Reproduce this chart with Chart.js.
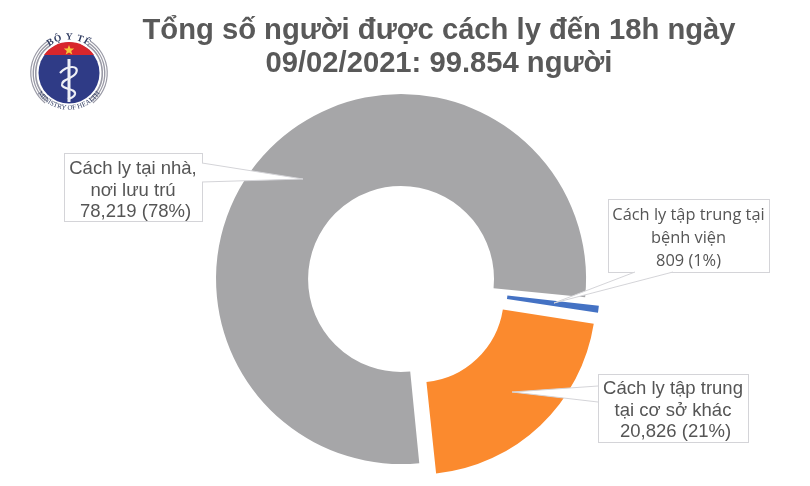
<!DOCTYPE html>
<html><head><meta charset="utf-8">
<script src="https://cdn.jsdelivr.net/npm/chart.js@4"></script>
<style>
html,body{margin:0;padding:0;background:#fff;}
#wrap{position:relative;width:810px;height:486px;overflow:hidden;}
canvas{position:absolute;left:0;top:0;}
#title{position:absolute;left:69px;width:740px;top:13px;text-align:center;font:bold 29.2px/33px "Liberation Sans",sans-serif;color:#595959;}
.lab{position:absolute;text-align:center;color:#555;white-space:pre;font-family:"Liberation Sans",sans-serif;}
svg{position:absolute;left:0;top:0;}
</style></head><body>
<div id="wrap">
<canvas id="c" width="810" height="486"></canvas>
<svg id="ov" width="810" height="486"></svg>
<div id="title">Tổng số người được cách ly đến 18h ngày<br>09/02/2021: 99.854 người</div>
<div class="lab" style="left:64px;top:157px;width:138px;font-size:18.5px;line-height:21.5px;">Cách ly tại nhà,
nơi lưu trú
 78,219 (78%)</div>
<div class="lab" style="left:608px;top:202px;width:161px;font:16.4px/23px 'Open Sans',sans-serif;">Cách ly tập trung tại
bệnh viện
809 (1%)</div>
<div class="lab" style="left:598px;top:377px;width:150px;font-size:18.5px;line-height:21.5px;">Cách ly tập trung
tại cơ sở khác
 20,826 (21%)</div>
</div>
<script>
const categories = ["Cách ly tại nhà, nơi lưu trú", "Cách ly tập trung tại bệnh viện", "Cách ly tập trung tại cơ sở khác"];
const values = [78219, 809, 20826];
const colors = ["#a6a6a8", "#4472c4", "#fb8a2e"];
const offsets = [28, 33, 66];

new Chart(document.getElementById("c"), {
  type: "doughnut",
  data: { labels: categories, datasets: [{ data: values, backgroundColor: colors, borderWidth: 0, offset: offsets }] },
  options: {
    responsive: false, animation: false, rotation: 174, cutout: "48.3%", radius: 178,
    layout: { padding: { top: 82, left: 2 } },
    plugins: { legend: { display: false }, tooltip: { enabled: false } }
  }
});

const border = "#d4d4d8";
const callouts = [
 {box:[64,153,202,221], tip:[303,179], base:[[202,163],[202,182]]},
 {box:[608,199,769,272], tip:[554,303], base:[[635,272],[673,272]]},
 {box:[598,374,748,442], tip:[512,392], base:[[598,386],[598,402]]}
];
const ns="http://www.w3.org/2000/svg", ov=document.getElementById("ov");
function el(n,a,p){const e=document.createElementNS(ns,n);for(const k in a)e.setAttribute(k,a[k]);(p||ov).appendChild(e);return e;}
callouts.forEach(c=>{
  const [x0,y0,x1,y1]=c.box;
  const pts=[c.base[0],c.tip,c.base[1]].map(p=>p.join(",")).join(" ");
  el("rect",{x:x0+.5,y:y0+.5,width:x1-x0,height:y1-y0,fill:"#fff",stroke:border});
  el("polygon",{points:pts,fill:"#fff",stroke:"none"});
  el("polyline",{points:pts,fill:"none",stroke:border});
});
// logo
const g=el("g",{transform:"translate(69,73)"});
el("circle",{cx:0,cy:0,r:30.5,fill:"#2f3b86"},g);
el("path",{d:"M-25,-18 A30.5,30.5 0 0 1 25,-18 Z",fill:"#d8262c"},g);
el("polygon",{points:"0,-28 1.4,-24.4 5.2,-24.4 2.2,-22 3.3,-18.6 0,-20.6 -3.3,-18.6 -2.2,-22 -5.2,-24.4 -1.4,-24.4",fill:"#f6c93a"},g);
el("path",{d:"M0,-14 L0,29",stroke:"#eef0f6","stroke-width":3,fill:"none"},g);
el("path",{d:"M-9,0 C-2,-8 11,-8 7,0 C4,6 -8,6 -7,12 C-6,17 7,15 6,21 C5,25 1,25 -1,26",stroke:"#eef0f6","stroke-width":2.2,fill:"none"},g);
[[33.5,1.6],[36,1.4],[38.5,1.2]].forEach(([r,w])=>{
  el("path",{d:`M${-r*.62},${r*.78} A${r},${r} 0 0 1 ${-r*.55},${-r*.83}`,stroke:"#9a9aa6","stroke-width":w,fill:"none"},g);
  el("path",{d:`M${r*.62},${r*.78} A${r},${r} 0 0 0 ${r*.55},${-r*.83}`,stroke:"#9a9aa6","stroke-width":w,fill:"none"},g);
});
el("path",{id:"t1",d:"M-25,-22 A33,33 0 0 1 25,-22",fill:"none"},g);
el("path",{id:"t2",d:"M-34,15 A37.5,37.5 0 0 0 34,15",fill:"none"},g);
const t1=el("text",{"font-size":9.5,"font-family":"Liberation Serif",fill:"#2f3b60","text-anchor":"middle","font-weight":"bold","letter-spacing":".8"},g);
el("textPath",{href:"#t1",startOffset:"50%"},t1).textContent="BỘ Y TẾ";
const t2=el("text",{"font-size":7,"font-family":"Liberation Serif",fill:"#2f3b60","text-anchor":"middle"},g);
el("textPath",{href:"#t2",startOffset:"50%"},t2).textContent="MINISTRY OF HEALTH";
</script>
</body></html>
